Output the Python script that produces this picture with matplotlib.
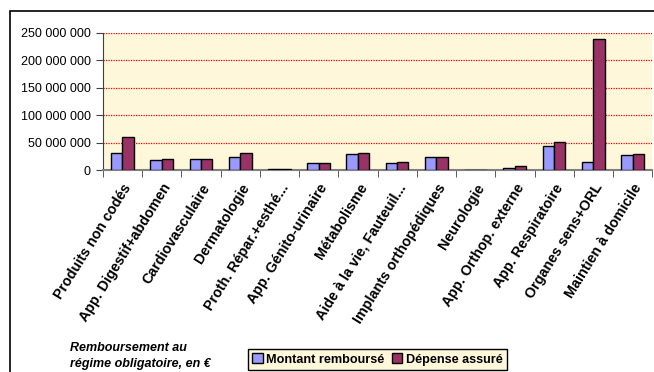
import numpy as np
import matplotlib.pyplot as plt
from matplotlib.patches import Rectangle
from matplotlib.ticker import FuncFormatter

plt.rcParams['font.family'] = ['Liberation Sans', 'DejaVu Sans']

# Categories and amounts (euros)
categories = ['Produits non codés', 'App. Digestif+abdomen', 'Cardiovasculaire',
              'Dermatologie', 'Proth. Répar.+esthé...', 'App. Génito-urinaire',
              'Métabolisme', 'Aide à la vie, Fauteuil...', 'Implants orthopédiques',
              'Neurologie', 'App. Orthop. externe', 'App. Respiratoire',
              'Organes sens+ORL', 'Maintien à domicile']
rembourse = [31.5e6, 18.8e6, 20.0e6, 24.0e6, 1.5e6, 12.0e6, 29.0e6,
             12.7e6, 24.0e6, 0.3e6, 3.6e6, 43.0e6, 14.5e6, 26.7e6]
depense = [59.5e6, 20.0e6, 19.5e6, 31.5e6, 1.5e6, 13.0e6, 31.5e6,
           14.5e6, 24.0e6, 0.3e6, 7.8e6, 50.4e6, 238.0e6, 28.5e6]
yticks = [0, 50e6, 100e6, 150e6, 200e6, 250e6]

fig = plt.figure(figsize=(6.54, 3.72), dpi=100)
ax = fig.add_axes([0.1575, 0.543, 0.84, 0.369])
ax.set_facecolor('#FFF7DA')

x = np.arange(len(categories))
w = 0.29
ax.bar(x - 0.15, rembourse, w, color='#9999FF', edgecolor='black', linewidth=1,
       label='Montant remboursé', zorder=3)
ax.bar(x + 0.14, depense, w, color='#993366', edgecolor='black', linewidth=1,
       label='Dépense assuré', zorder=3)

ax.set_xlim(-0.5, len(categories) - 0.5)
ax.set_ylim(0, 250e6)
ax.set_yticks(yticks)
ax.yaxis.set_major_formatter(FuncFormatter(lambda v, p: f'{int(v):,}'.replace(',', ' ')))
ax.yaxis.grid(True, color='red', linestyle=(0, (1, 1)), linewidth=0.9, zorder=1)
ax.tick_params(axis='y', direction='out', length=5, color='#404040', labelsize=9, pad=4)

ax.set_xticks(x)
ax.set_xticklabels(categories, rotation=58, ha='right', va='top',
                   rotation_mode='anchor', fontsize=10.3, fontweight='bold')
ax.set_xticks(np.arange(len(categories) + 1) - 0.5, minor=True)
ax.tick_params(axis='x', which='major', length=0, pad=8)
ax.tick_params(axis='x', which='minor', direction='out', length=5, color='#404040')

for s in ['top', 'right']:
    ax.spines[s].set_visible(False)
ax.spines['left'].set_color('#404040')
ax.spines['bottom'].set_color('#808080')
ax.spines['bottom'].set_linewidth(1.5)

fig.text(70 / 654, 1 - 342 / 372, 'Remboursement au\nrégime obligatoire, en €',
         fontsize=9, fontweight='bold', fontstyle='italic', ha='left', va='top',
         linespacing=1.45)

leg = fig.legend(loc='upper left', bbox_to_anchor=(248 / 654, 1 - 349 / 372), ncol=2,
                 fontsize=9.1, frameon=True, fancybox=False, handlelength=0.8,
                 handleheight=0.8, handletextpad=0.3, columnspacing=0.6,
                 borderpad=0.35, borderaxespad=0)
leg.get_frame().set_edgecolor('black')
leg.get_frame().set_facecolor('#FFF7DA')
leg.get_frame().set_alpha(1)
for t in leg.get_texts():
    t.set_fontweight('bold')

fig.add_artist(Rectangle((10 / 654, -0.1), 2, 1 - 11 / 372 + 0.1,
                         transform=fig.transFigure, fill=False,
                         edgecolor='black', linewidth=1.2))

fig.savefig('out.png', dpi=100)
